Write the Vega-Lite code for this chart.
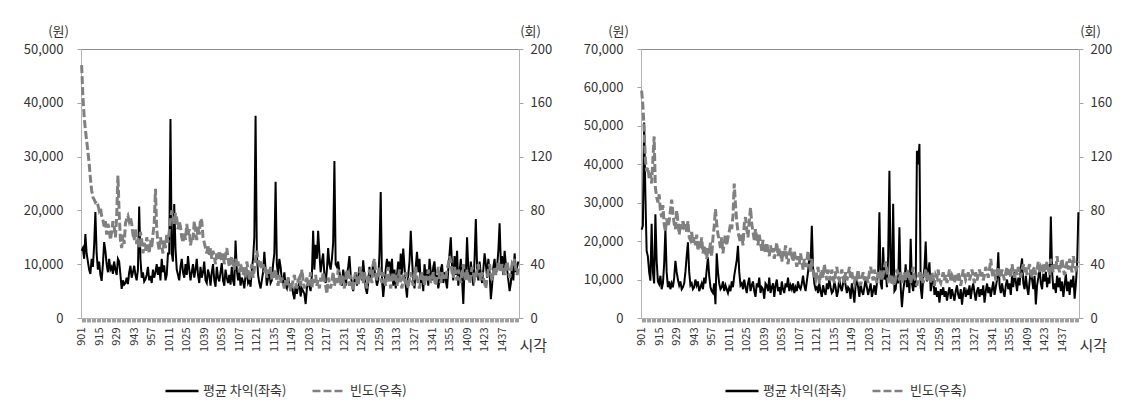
{
"$schema":"https://vega.github.io/schema/vega-lite/v6.json",
"background":"white",
"padding":{"left":22,"top":24,"right":5,"bottom":2},
"bounds":"flush",
"spacing":122,
"datasets":{
"L":[
{"m":1,"a":12500,"f":188},{"m":2,"a":13000,"f":165},{"m":3,"a":11000,"f":150},{"m":4,"a":15600,"f":140},{"m":5,"a":12000,"f":132},{"m":6,"a":10500,"f":124},{"m":7,"a":9000,"f":115},{"m":8,"a":8200,"f":104},{"m":9,"a":11000,"f":95},{"m":10,"a":9500,"f":90},
{"m":11,"a":13500,"f":88},{"m":12,"a":19700,"f":86},{"m":13,"a":12000,"f":87},{"m":14,"a":9000,"f":84},{"m":15,"a":10500,"f":80},{"m":16,"a":8000,"f":82},{"m":17,"a":6900,"f":76},{"m":18,"a":10000,"f":73},{"m":19,"a":14100,"f":68},{"m":20,"a":12500,"f":72},
{"m":21,"a":10000,"f":62},{"m":22,"a":8500,"f":70},{"m":23,"a":11000,"f":66},{"m":24,"a":9000,"f":58},{"m":25,"a":9500,"f":64},{"m":26,"a":8200,"f":72},{"m":27,"a":10500,"f":68},{"m":28,"a":9000,"f":60},{"m":29,"a":8000,"f":75},{"m":30,"a":11000,"f":106},
{"m":31,"a":10500,"f":78},{"m":32,"a":8000,"f":58},{"m":33,"a":5400,"f":52},{"m":34,"a":7000,"f":62},{"m":35,"a":6200,"f":55},{"m":36,"a":6500,"f":70},{"m":37,"a":7500,"f":74},{"m":38,"a":6300,"f":76},{"m":39,"a":8500,"f":72},{"m":40,"a":9700,"f":75},
{"m":41,"a":7500,"f":70},{"m":42,"a":8500,"f":62},{"m":43,"a":9700,"f":58},{"m":44,"a":8000,"f":66},{"m":45,"a":7000,"f":55},{"m":46,"a":9000,"f":60},{"m":47,"a":20700,"f":52},{"m":48,"a":11000,"f":64},{"m":49,"a":7500,"f":58},{"m":50,"a":8500,"f":48},
{"m":51,"a":6800,"f":56},{"m":52,"a":7200,"f":50},{"m":53,"a":8000,"f":60},{"m":54,"a":9500,"f":54},{"m":55,"a":7000,"f":48},{"m":56,"a":7800,"f":58},{"m":57,"a":6500,"f":52},{"m":58,"a":9000,"f":62},{"m":59,"a":7500,"f":70},{"m":60,"a":8500,"f":96},
{"m":61,"a":10000,"f":66},{"m":62,"a":8000,"f":56},{"m":63,"a":9500,"f":50},{"m":64,"a":7000,"f":60},{"m":65,"a":11000,"f":54},{"m":66,"a":8500,"f":48},{"m":67,"a":9800,"f":58},{"m":68,"a":7000,"f":52},{"m":69,"a":8000,"f":62},{"m":70,"a":12000,"f":56},
{"m":71,"a":12000,"f":64},{"m":72,"a":37000,"f":72},{"m":73,"a":12000,"f":80},{"m":74,"a":10500,"f":76},{"m":75,"a":21200,"f":70},{"m":76,"a":13000,"f":78},{"m":77,"a":9000,"f":74},{"m":78,"a":8000,"f":66},{"m":79,"a":7000,"f":72},{"m":80,"a":9500,"f":68},
{"m":81,"a":11000,"f":60},{"m":82,"a":8500,"f":56},{"m":83,"a":7500,"f":64},{"m":84,"a":10000,"f":58},{"m":85,"a":8000,"f":70},{"m":86,"a":11500,"f":62},{"m":87,"a":9000,"f":66},{"m":88,"a":7000,"f":54},{"m":89,"a":8500,"f":60},{"m":90,"a":10000,"f":58},
{"m":91,"a":7500,"f":72},{"m":92,"a":9000,"f":64},{"m":93,"a":11000,"f":58},{"m":94,"a":8000,"f":68},{"m":95,"a":6500,"f":62},{"m":96,"a":9500,"f":74},{"m":97,"a":7500,"f":72},{"m":98,"a":8500,"f":60},{"m":99,"a":10500,"f":56},{"m":100,"a":7000,"f":52},
{"m":101,"a":6500,"f":48},{"m":102,"a":9000,"f":54},{"m":103,"a":8000,"f":46},{"m":104,"a":6000,"f":52},{"m":105,"a":8500,"f":44},{"m":106,"a":10000,"f":50},{"m":107,"a":7000,"f":46},{"m":108,"a":5800,"f":40},{"m":109,"a":9500,"f":48},{"m":110,"a":7500,"f":44},
{"m":111,"a":6800,"f":50},{"m":112,"a":8500,"f":46},{"m":113,"a":10200,"f":42},{"m":114,"a":7000,"f":48},{"m":115,"a":6000,"f":40},{"m":116,"a":9000,"f":46},{"m":117,"a":7500,"f":52},{"m":118,"a":6500,"f":44},{"m":119,"a":8000,"f":38},{"m":120,"a":6200,"f":42},
{"m":121,"a":9500,"f":46},{"m":122,"a":7000,"f":40},{"m":123,"a":6000,"f":36},{"m":124,"a":14400,"f":44},{"m":125,"a":9000,"f":38},{"m":126,"a":7000,"f":42},{"m":127,"a":8500,"f":34},{"m":128,"a":6000,"f":40},{"m":129,"a":7500,"f":36},{"m":130,"a":6800,"f":32},
{"m":131,"a":5500,"f":38},{"m":132,"a":8000,"f":30},{"m":133,"a":9000,"f":42},{"m":134,"a":6500,"f":36},{"m":135,"a":7000,"f":28},{"m":136,"a":5800,"f":34},{"m":137,"a":9000,"f":40},{"m":138,"a":11000,"f":30},{"m":139,"a":15000,"f":36},{"m":140,"a":37600,"f":44},
{"m":141,"a":12000,"f":50},{"m":142,"a":8000,"f":44},{"m":143,"a":6500,"f":38},{"m":144,"a":5500,"f":42},{"m":145,"a":7000,"f":36},{"m":146,"a":8500,"f":40},{"m":147,"a":12300,"f":34},{"m":148,"a":9000,"f":38},{"m":149,"a":6000,"f":30},{"m":150,"a":7500,"f":36},
{"m":151,"a":8500,"f":32},{"m":152,"a":6500,"f":38},{"m":153,"a":7000,"f":28},{"m":154,"a":10000,"f":34},{"m":155,"a":12000,"f":30},{"m":156,"a":25300,"f":36},{"m":157,"a":10000,"f":28},{"m":158,"a":8000,"f":24},{"m":159,"a":11000,"f":32},{"m":160,"a":9500,"f":26},
{"m":161,"a":7000,"f":30},{"m":162,"a":6500,"f":26},{"m":163,"a":8500,"f":22},{"m":164,"a":6000,"f":28},{"m":165,"a":5500,"f":24},{"m":166,"a":7500,"f":30},{"m":167,"a":6000,"f":26},{"m":168,"a":5000,"f":20},{"m":169,"a":6500,"f":24},{"m":170,"a":4500,"f":28},
{"m":171,"a":3500,"f":32},{"m":172,"a":6000,"f":26},{"m":173,"a":4500,"f":22},{"m":174,"a":5800,"f":28},{"m":175,"a":6500,"f":30},{"m":176,"a":4000,"f":24},{"m":177,"a":5500,"f":36},{"m":178,"a":5000,"f":28},{"m":179,"a":4500,"f":22},{"m":180,"a":2600,"f":26},
{"m":181,"a":5500,"f":30},{"m":182,"a":7000,"f":24},{"m":183,"a":6000,"f":28},{"m":184,"a":5000,"f":34},{"m":185,"a":8000,"f":22},{"m":186,"a":16200,"f":30},{"m":187,"a":9000,"f":26},{"m":188,"a":13600,"f":32},{"m":189,"a":11000,"f":24},{"m":190,"a":16200,"f":28},
{"m":191,"a":12000,"f":22},{"m":192,"a":8500,"f":30},{"m":193,"a":10500,"f":26},{"m":194,"a":12000,"f":34},{"m":195,"a":8000,"f":28},{"m":196,"a":6500,"f":24},{"m":197,"a":9000,"f":18},{"m":198,"a":13000,"f":30},{"m":199,"a":10000,"f":26},{"m":200,"a":9000,"f":22},
{"m":201,"a":11000,"f":28},{"m":202,"a":14000,"f":34},{"m":203,"a":29200,"f":24},{"m":204,"a":10000,"f":30},{"m":205,"a":9500,"f":26},{"m":206,"a":10500,"f":36},{"m":207,"a":8500,"f":30},{"m":208,"a":7000,"f":24},{"m":209,"a":6000,"f":32},{"m":210,"a":9000,"f":28},
{"m":211,"a":7500,"f":22},{"m":212,"a":6000,"f":30},{"m":213,"a":8000,"f":36},{"m":214,"a":9500,"f":28},{"m":215,"a":11500,"f":24},{"m":216,"a":8000,"f":32},{"m":217,"a":6500,"f":26},{"m":218,"a":5000,"f":20},{"m":219,"a":7000,"f":30},{"m":220,"a":8500,"f":34},
{"m":221,"a":6000,"f":28},{"m":222,"a":7500,"f":24},{"m":223,"a":9500,"f":32},{"m":224,"a":8500,"f":38},{"m":225,"a":7000,"f":30},{"m":226,"a":10700,"f":26},{"m":227,"a":8000,"f":34},{"m":228,"a":5500,"f":28},{"m":229,"a":4500,"f":22},{"m":230,"a":6500,"f":30},
{"m":231,"a":9500,"f":36},{"m":232,"a":7000,"f":30},{"m":233,"a":8000,"f":26},{"m":234,"a":10500,"f":40},{"m":235,"a":9000,"f":44},{"m":236,"a":7500,"f":34},{"m":237,"a":6000,"f":28},{"m":238,"a":7000,"f":32},{"m":239,"a":12000,"f":38},{"m":240,"a":23400,"f":30},
{"m":241,"a":7000,"f":26},{"m":242,"a":3900,"f":34},{"m":243,"a":6500,"f":30},{"m":244,"a":9000,"f":24},{"m":245,"a":11000,"f":32},{"m":246,"a":9000,"f":38},{"m":247,"a":10500,"f":28},{"m":248,"a":7500,"f":22},{"m":249,"a":11000,"f":30},{"m":250,"a":6000,"f":34},
{"m":251,"a":9000,"f":28},{"m":252,"a":5500,"f":32},{"m":253,"a":8000,"f":24},{"m":254,"a":10500,"f":30},{"m":255,"a":7000,"f":36},{"m":256,"a":12000,"f":26},{"m":257,"a":8000,"f":22},{"m":258,"a":12900,"f":30},{"m":259,"a":9500,"f":28},{"m":260,"a":6000,"f":34},
{"m":261,"a":3800,"f":26},{"m":262,"a":8000,"f":22},{"m":263,"a":10500,"f":30},{"m":264,"a":16200,"f":34},{"m":265,"a":11000,"f":28},{"m":266,"a":7000,"f":24},{"m":267,"a":5500,"f":32},{"m":268,"a":9500,"f":38},{"m":269,"a":12300,"f":30},{"m":270,"a":8500,"f":26},
{"m":271,"a":11000,"f":22},{"m":272,"a":6500,"f":28},{"m":273,"a":8000,"f":34},{"m":274,"a":5000,"f":30},{"m":275,"a":10000,"f":24},{"m":276,"a":7500,"f":32},{"m":277,"a":9000,"f":28},{"m":278,"a":6000,"f":36},{"m":279,"a":11000,"f":30},{"m":280,"a":8500,"f":26},
{"m":281,"a":7000,"f":30},{"m":282,"a":9500,"f":34},{"m":283,"a":10500,"f":28},{"m":284,"a":6500,"f":24},{"m":285,"a":8000,"f":32},{"m":286,"a":5500,"f":38},{"m":287,"a":7000,"f":30},{"m":288,"a":9000,"f":26},{"m":289,"a":10000,"f":34},{"m":290,"a":6500,"f":28},
{"m":291,"a":8500,"f":32},{"m":292,"a":7000,"f":28},{"m":293,"a":5500,"f":36},{"m":294,"a":9000,"f":40},{"m":295,"a":12000,"f":46},{"m":296,"a":15000,"f":42},{"m":297,"a":9500,"f":34},{"m":298,"a":7000,"f":30},{"m":299,"a":11500,"f":38},{"m":300,"a":8000,"f":32},
{"m":301,"a":12500,"f":28},{"m":302,"a":6000,"f":36},{"m":303,"a":8500,"f":30},{"m":304,"a":11000,"f":26},{"m":305,"a":7000,"f":34},{"m":306,"a":2600,"f":40},{"m":307,"a":9500,"f":32},{"m":308,"a":8000,"f":28},{"m":309,"a":15000,"f":36},{"m":310,"a":9000,"f":30},
{"m":311,"a":7000,"f":26},{"m":312,"a":10500,"f":32},{"m":313,"a":8000,"f":38},{"m":314,"a":6000,"f":34},{"m":315,"a":11000,"f":28},{"m":316,"a":18400,"f":30},{"m":317,"a":9500,"f":36},{"m":318,"a":7000,"f":40},{"m":319,"a":10500,"f":32},{"m":320,"a":8000,"f":28},
{"m":321,"a":6500,"f":34},{"m":322,"a":9000,"f":30},{"m":323,"a":12000,"f":26},{"m":324,"a":10000,"f":22},{"m":325,"a":7500,"f":30},{"m":326,"a":11000,"f":36},{"m":327,"a":8500,"f":40},{"m":328,"a":3500,"f":32},{"m":329,"a":6000,"f":28},{"m":330,"a":9500,"f":34},
{"m":331,"a":11000,"f":38},{"m":332,"a":8000,"f":32},{"m":333,"a":9500,"f":36},{"m":334,"a":12500,"f":42},{"m":335,"a":17600,"f":38},{"m":336,"a":10000,"f":34},{"m":337,"a":11500,"f":40},{"m":338,"a":8000,"f":36},{"m":339,"a":12500,"f":32},{"m":340,"a":10000,"f":38},
{"m":341,"a":9000,"f":42},{"m":342,"a":7000,"f":36},{"m":343,"a":5000,"f":30},{"m":344,"a":6500,"f":34},{"m":345,"a":10000,"f":40},{"m":346,"a":7000,"f":38},{"m":347,"a":12000,"f":44},{"m":348,"a":8500,"f":36},{"m":349,"a":9500,"f":32},{"m":350,"a":10500,"f":38}
],
"R":[
{"m":1,"a":23000,"f":169},{"m":2,"a":24000,"f":158},{"m":3,"a":50900,"f":140},{"m":4,"a":32000,"f":118},{"m":5,"a":17500,"f":109},{"m":6,"a":16000,"f":112},{"m":7,"a":12000,"f":104},{"m":8,"a":9700,"f":108},{"m":9,"a":24500,"f":100},{"m":10,"a":12000,"f":118},
{"m":11,"a":9000,"f":135},{"m":12,"a":27000,"f":97},{"m":13,"a":15000,"f":90},{"m":14,"a":9500,"f":86},{"m":15,"a":8800,"f":92},{"m":16,"a":11000,"f":80},{"m":17,"a":7500,"f":75},{"m":18,"a":9000,"f":84},{"m":19,"a":14000,"f":70},{"m":20,"a":23100,"f":64},
{"m":21,"a":12000,"f":74},{"m":22,"a":8000,"f":68},{"m":23,"a":9500,"f":72},{"m":24,"a":7500,"f":80},{"m":25,"a":9000,"f":88},{"m":26,"a":8000,"f":78},{"m":27,"a":10500,"f":70},{"m":28,"a":14900,"f":66},{"m":29,"a":12000,"f":80},{"m":30,"a":10000,"f":72},
{"m":31,"a":8500,"f":62},{"m":32,"a":9500,"f":70},{"m":33,"a":7500,"f":66},{"m":34,"a":8000,"f":72},{"m":35,"a":9000,"f":68},{"m":36,"a":12000,"f":70},{"m":37,"a":16000,"f":64},{"m":38,"a":19700,"f":72},{"m":39,"a":12000,"f":60},{"m":40,"a":8500,"f":58},
{"m":41,"a":9000,"f":64},{"m":42,"a":7500,"f":56},{"m":43,"a":8000,"f":60},{"m":44,"a":10000,"f":54},{"m":45,"a":8500,"f":62},{"m":46,"a":9500,"f":50},{"m":47,"a":7000,"f":58},{"m":48,"a":8000,"f":52},{"m":49,"a":9000,"f":60},{"m":50,"a":7500,"f":48},
{"m":51,"a":10500,"f":54},{"m":52,"a":9000,"f":50},{"m":53,"a":12500,"f":44},{"m":54,"a":15800,"f":52},{"m":55,"a":11000,"f":48},{"m":56,"a":8000,"f":56},{"m":57,"a":7000,"f":46},{"m":58,"a":6500,"f":60},{"m":59,"a":9000,"f":68},{"m":60,"a":3600,"f":81},
{"m":61,"a":16800,"f":70},{"m":62,"a":12000,"f":62},{"m":63,"a":9000,"f":58},{"m":64,"a":7500,"f":52},{"m":65,"a":8000,"f":60},{"m":66,"a":9500,"f":48},{"m":67,"a":7000,"f":56},{"m":68,"a":8500,"f":62},{"m":69,"a":7500,"f":54},{"m":70,"a":6500,"f":60},
{"m":71,"a":8000,"f":64},{"m":72,"a":7000,"f":70},{"m":73,"a":9500,"f":66},{"m":74,"a":8000,"f":76},{"m":75,"a":11000,"f":100},{"m":76,"a":13000,"f":84},{"m":77,"a":15000,"f":72},{"m":78,"a":18800,"f":64},{"m":79,"a":12000,"f":60},{"m":80,"a":8500,"f":56},
{"m":81,"a":9000,"f":62},{"m":82,"a":7500,"f":54},{"m":83,"a":10000,"f":70},{"m":84,"a":8000,"f":75},{"m":85,"a":6500,"f":66},{"m":86,"a":9000,"f":60},{"m":87,"a":10500,"f":72},{"m":88,"a":7000,"f":82},{"m":89,"a":8500,"f":70},{"m":90,"a":9500,"f":64},
{"m":91,"a":7000,"f":58},{"m":92,"a":5500,"f":66},{"m":93,"a":9000,"f":60},{"m":94,"a":8000,"f":54},{"m":95,"a":10500,"f":62},{"m":96,"a":6500,"f":56},{"m":97,"a":8000,"f":50},{"m":98,"a":7500,"f":58},{"m":99,"a":5000,"f":52},{"m":100,"a":9000,"f":48},
{"m":101,"a":8500,"f":56},{"m":102,"a":7000,"f":50},{"m":103,"a":10500,"f":46},{"m":104,"a":6500,"f":54},{"m":105,"a":8000,"f":48},{"m":106,"a":9000,"f":52},{"m":107,"a":5500,"f":44},{"m":108,"a":8500,"f":50},{"m":109,"a":10000,"f":56},{"m":110,"a":7000,"f":46},
{"m":111,"a":8000,"f":52},{"m":112,"a":6000,"f":48},{"m":113,"a":9500,"f":42},{"m":114,"a":7500,"f":50},{"m":115,"a":6500,"f":46},{"m":116,"a":9000,"f":54},{"m":117,"a":8000,"f":44},{"m":118,"a":10500,"f":40},{"m":119,"a":7000,"f":48},{"m":120,"a":8500,"f":52},
{"m":121,"a":7500,"f":46},{"m":122,"a":9000,"f":42},{"m":123,"a":6500,"f":50},{"m":124,"a":8000,"f":44},{"m":125,"a":7000,"f":38},{"m":126,"a":9500,"f":46},{"m":127,"a":8000,"f":40},{"m":128,"a":7500,"f":48},{"m":129,"a":9000,"f":42},{"m":130,"a":11000,"f":36},
{"m":131,"a":8500,"f":44},{"m":132,"a":7000,"f":38},{"m":133,"a":9500,"f":42},{"m":134,"a":12000,"f":50},{"m":135,"a":16000,"f":40},{"m":136,"a":14000,"f":34},{"m":137,"a":24000,"f":44},{"m":138,"a":13000,"f":36},{"m":139,"a":9000,"f":30},{"m":140,"a":7500,"f":28},
{"m":141,"a":8000,"f":34},{"m":142,"a":6500,"f":38},{"m":143,"a":9000,"f":26},{"m":144,"a":7000,"f":32},{"m":145,"a":5500,"f":36},{"m":146,"a":8500,"f":30},{"m":147,"a":7000,"f":40},{"m":148,"a":6000,"f":34},{"m":149,"a":9000,"f":28},{"m":150,"a":7500,"f":36},
{"m":151,"a":10000,"f":32},{"m":152,"a":8000,"f":28},{"m":153,"a":6500,"f":36},{"m":154,"a":7000,"f":30},{"m":155,"a":9500,"f":26},{"m":156,"a":8000,"f":34},{"m":157,"a":5500,"f":38},{"m":158,"a":7000,"f":30},{"m":159,"a":10500,"f":28},{"m":160,"a":8000,"f":32},
{"m":161,"a":7000,"f":36},{"m":162,"a":9000,"f":30},{"m":163,"a":11000,"f":26},{"m":164,"a":8500,"f":34},{"m":165,"a":6500,"f":28},{"m":166,"a":8000,"f":32},{"m":167,"a":7500,"f":38},{"m":168,"a":5000,"f":30},{"m":169,"a":9000,"f":34},{"m":170,"a":7000,"f":28},
{"m":171,"a":4000,"f":26},{"m":172,"a":8500,"f":32},{"m":173,"a":10000,"f":30},{"m":174,"a":8000,"f":36},{"m":175,"a":5500,"f":28},{"m":176,"a":9000,"f":24},{"m":177,"a":7000,"f":30},{"m":178,"a":6000,"f":34},{"m":179,"a":8000,"f":28},{"m":180,"a":10000,"f":32},
{"m":181,"a":8000,"f":30},{"m":182,"a":6000,"f":26},{"m":183,"a":7500,"f":34},{"m":184,"a":9000,"f":38},{"m":185,"a":5500,"f":32},{"m":186,"a":7000,"f":28},{"m":187,"a":8500,"f":36},{"m":188,"a":6000,"f":30},{"m":189,"a":9000,"f":26},{"m":190,"a":12000,"f":34},
{"m":191,"a":27500,"f":30},{"m":192,"a":9000,"f":36},{"m":193,"a":7500,"f":28},{"m":194,"a":18400,"f":32},{"m":195,"a":10000,"f":38},{"m":196,"a":13000,"f":42},{"m":197,"a":8000,"f":34},{"m":198,"a":16000,"f":28},{"m":199,"a":38300,"f":30},{"m":200,"a":12000,"f":26},
{"m":201,"a":9000,"f":32},{"m":202,"a":29700,"f":28},{"m":203,"a":7000,"f":24},{"m":204,"a":7500,"f":30},{"m":205,"a":11000,"f":36},{"m":206,"a":9000,"f":32},{"m":207,"a":23600,"f":28},{"m":208,"a":8000,"f":34},{"m":209,"a":2800,"f":26},{"m":210,"a":7000,"f":30},
{"m":211,"a":9500,"f":34},{"m":212,"a":14000,"f":28},{"m":213,"a":8000,"f":32},{"m":214,"a":12000,"f":36},{"m":215,"a":6500,"f":30},{"m":216,"a":20600,"f":26},{"m":217,"a":9000,"f":32},{"m":218,"a":7000,"f":38},{"m":219,"a":11000,"f":30},{"m":220,"a":8000,"f":28},
{"m":221,"a":43500,"f":24},{"m":222,"a":40000,"f":30},{"m":223,"a":45300,"f":34},{"m":224,"a":8000,"f":28},{"m":225,"a":5000,"f":32},{"m":226,"a":10500,"f":26},{"m":227,"a":13000,"f":30},{"m":228,"a":19900,"f":36},{"m":229,"a":9500,"f":28},{"m":230,"a":12000,"f":32},
{"m":231,"a":14500,"f":30},{"m":232,"a":7000,"f":26},{"m":233,"a":9000,"f":34},{"m":234,"a":11000,"f":28},{"m":235,"a":6000,"f":24},{"m":236,"a":8000,"f":32},{"m":237,"a":5500,"f":30},{"m":238,"a":7000,"f":36},{"m":239,"a":4000,"f":28},{"m":240,"a":7500,"f":26},
{"m":241,"a":6000,"f":30},{"m":242,"a":8000,"f":34},{"m":243,"a":5500,"f":28},{"m":244,"a":7000,"f":32},{"m":245,"a":4500,"f":26},{"m":246,"a":6500,"f":30},{"m":247,"a":8000,"f":36},{"m":248,"a":5000,"f":28},{"m":249,"a":7500,"f":32},{"m":250,"a":6000,"f":30},
{"m":251,"a":4500,"f":26},{"m":252,"a":7000,"f":32},{"m":253,"a":8500,"f":28},{"m":254,"a":6000,"f":34},{"m":255,"a":5000,"f":30},{"m":256,"a":7500,"f":24},{"m":257,"a":3500,"f":30},{"m":258,"a":6500,"f":36},{"m":259,"a":8000,"f":32},{"m":260,"a":5500,"f":28},
{"m":261,"a":7000,"f":30},{"m":262,"a":6000,"f":34},{"m":263,"a":8500,"f":28},{"m":264,"a":5000,"f":32},{"m":265,"a":7500,"f":36},{"m":266,"a":9000,"f":30},{"m":267,"a":6500,"f":26},{"m":268,"a":4500,"f":34},{"m":269,"a":7000,"f":28},{"m":270,"a":8000,"f":32},
{"m":271,"a":5500,"f":36},{"m":272,"a":7500,"f":30},{"m":273,"a":6000,"f":34},{"m":274,"a":8500,"f":28},{"m":275,"a":4000,"f":32},{"m":276,"a":7000,"f":38},{"m":277,"a":9000,"f":34},{"m":278,"a":6500,"f":30},{"m":279,"a":8000,"f":36},{"m":280,"a":5500,"f":44},
{"m":281,"a":7500,"f":34},{"m":282,"a":9500,"f":30},{"m":283,"a":6000,"f":36},{"m":284,"a":8000,"f":28},{"m":285,"a":10000,"f":32},{"m":286,"a":17100,"f":38},{"m":287,"a":8500,"f":34},{"m":288,"a":6500,"f":30},{"m":289,"a":9000,"f":36},{"m":290,"a":7000,"f":32},
{"m":291,"a":5500,"f":28},{"m":292,"a":8500,"f":34},{"m":293,"a":10000,"f":38},{"m":294,"a":7500,"f":32},{"m":295,"a":9000,"f":36},{"m":296,"a":6000,"f":30},{"m":297,"a":11000,"f":40},{"m":298,"a":8000,"f":34},{"m":299,"a":12000,"f":30},{"m":300,"a":9500,"f":36},
{"m":301,"a":7000,"f":32},{"m":302,"a":10500,"f":38},{"m":303,"a":8500,"f":34},{"m":304,"a":13000,"f":30},{"m":305,"a":15500,"f":36},{"m":306,"a":9000,"f":40},{"m":307,"a":7500,"f":34},{"m":308,"a":11000,"f":38},{"m":309,"a":8000,"f":32},{"m":310,"a":6000,"f":36},
{"m":311,"a":9500,"f":40},{"m":312,"a":12500,"f":34},{"m":313,"a":10000,"f":30},{"m":314,"a":7500,"f":36},{"m":315,"a":11000,"f":38},{"m":316,"a":3500,"f":32},{"m":317,"a":8500,"f":36},{"m":318,"a":10500,"f":42},{"m":319,"a":13000,"f":34},{"m":320,"a":9000,"f":38},
{"m":321,"a":7500,"f":36},{"m":322,"a":11500,"f":40},{"m":323,"a":9500,"f":34},{"m":324,"a":12000,"f":38},{"m":325,"a":8000,"f":42},{"m":326,"a":10500,"f":36},{"m":327,"a":9000,"f":32},{"m":328,"a":26400,"f":44},{"m":329,"a":12000,"f":38},{"m":330,"a":7500,"f":34},
{"m":331,"a":9000,"f":40},{"m":332,"a":6500,"f":36},{"m":333,"a":11000,"f":46},{"m":334,"a":8000,"f":38},{"m":335,"a":10500,"f":34},{"m":336,"a":7000,"f":40},{"m":337,"a":9500,"f":44},{"m":338,"a":5500,"f":36},{"m":339,"a":8500,"f":32},{"m":340,"a":11500,"f":38},
{"m":341,"a":7000,"f":42},{"m":342,"a":9500,"f":36},{"m":343,"a":6000,"f":44},{"m":344,"a":10000,"f":38},{"m":345,"a":8000,"f":34},{"m":346,"a":11000,"f":46},{"m":347,"a":5000,"f":40},{"m":348,"a":9000,"f":36},{"m":349,"a":14000,"f":38},{"m":350,"a":27500,"f":42}
]
},
"hconcat":[
{
"width":438,"height":269,
"data":{"name":"L"},
"encoding":{"x":{"field":"m","type":"quantitative","scale":{"domain":[0.5,350.5],"nice":false,"zero":false},
"axis":{"title":"시각","titleX":438,"titleY":27,"titleAlign":"left","titleBaseline":"middle","titleFontSize":15,"tickCount":350,"labelExpr":"(datum.value-1)%14==0 ? toString(floor((540+datum.value)/60)*100+(540+datum.value)%60) : ''","labelAngle":-90,"labelFontSize":11,"labelPadding":5,"labelOverlap":false,"tickSize":4}}},
"layer":[
{"mark":{"type":"line","strokeWidth":2},
"encoding":{"y":{"field":"a","type":"quantitative","scale":{"domain":[0,50000],"nice":false},
"axis":{"orient":"left","values":[0,10000,20000,30000,40000,50000],"format":",.0f","title":"(원)","titleAngle":0,"titleX":-23,"titleY":-18,"titleAlign":"center","titleBaseline":"middle","labelPadding":14,"tickSize":4}},
"color":{"datum":"평균 차익(좌축)","type":"nominal","title":null,"scale":{"domain":["평균 차익(좌축)","빈도(우축)"],"range":["#000000","#808080"]}},
"strokeDash":{"datum":"평균 차익(좌축)","type":"nominal","title":null,"scale":{"domain":["평균 차익(좌축)","빈도(우축)"],"range":[[1,0],[8,3]]}}}},
{"mark":{"type":"line","strokeWidth":3},
"encoding":{"y":{"field":"f","type":"quantitative","scale":{"domain":[0,200],"nice":false},
"axis":{"orient":"right","values":[0,40,80,120,160,200],"format":".0f","title":"(회)","titleAngle":0,"titleX":11,"titleY":-18,"titleAlign":"center","titleBaseline":"middle","labelPadding":7,"tickSize":4}},
"color":{"datum":"빈도(우축)","type":"nominal","title":null},
"strokeDash":{"datum":"빈도(우축)","type":"nominal","title":null}}}
],
"resolve":{"scale":{"y":"independent"}}
},
{
"width":438,"height":269,
"data":{"name":"R"},
"encoding":{"x":{"field":"m","type":"quantitative","scale":{"domain":[0.5,350.5],"nice":false,"zero":false},
"axis":{"title":"시각","titleX":438,"titleY":27,"titleAlign":"left","titleBaseline":"middle","titleFontSize":15,"tickCount":350,"labelExpr":"(datum.value-1)%14==0 ? toString(floor((540+datum.value)/60)*100+(540+datum.value)%60) : ''","labelAngle":-90,"labelFontSize":11,"labelPadding":5,"labelOverlap":false,"tickSize":4}}},
"layer":[
{"mark":{"type":"line","strokeWidth":2},
"encoding":{"y":{"field":"a","type":"quantitative","scale":{"domain":[0,70000],"nice":false},
"axis":{"orient":"left","values":[0,10000,20000,30000,40000,50000,60000,70000],"format":",.0f","title":"(원)","titleAngle":0,"titleX":-23,"titleY":-18,"titleAlign":"center","titleBaseline":"middle","labelPadding":14,"tickSize":4}},
"color":{"datum":"평균 차익(좌축)","type":"nominal","title":null,"scale":{"domain":["평균 차익(좌축)","빈도(우축)"],"range":["#000000","#808080"]}},
"strokeDash":{"datum":"평균 차익(좌축)","type":"nominal","title":null,"scale":{"domain":["평균 차익(좌축)","빈도(우축)"],"range":[[1,0],[8,3]]}}}},
{"mark":{"type":"line","strokeWidth":3},
"encoding":{"y":{"field":"f","type":"quantitative","scale":{"domain":[0,200],"nice":false},
"axis":{"orient":"right","values":[0,40,80,120,160,200],"format":".0f","title":"(회)","titleAngle":0,"titleX":11,"titleY":-18,"titleAlign":"center","titleBaseline":"middle","labelPadding":7,"tickSize":4}},
"color":{"datum":"빈도(우축)","type":"nominal","title":null},
"strokeDash":{"datum":"빈도(우축)","type":"nominal","title":null}}}
],
"resolve":{"scale":{"y":"independent"}}
}
],
"resolve":{"scale":{"color":"independent","strokeDash":"independent"}},
"config":{
"font":"Noto Sans CJK KR",
"view":{"stroke":"#8c8c8c","strokeWidth":1},
"axis":{"grid":false,"domainColor":"#b4b4b4","tickColor":"#a0a0a0","labelColor":"#333333","titleColor":"#333333","labelFontSize":13,"titleFontSize":13,"titleFontWeight":"normal","labelFlush":false,"labelFont":"Noto Sans CJK KR","titleFont":"Noto Sans CJK KR"},
"legend":{"orient":"none","legendX":83,"legendY":324,"direction":"horizontal","symbolType":"stroke","symbolSize":1090,"symbolStrokeWidth":2.5,"labelFontSize":13,"labelOffset":3,"columnPadding":20,"padding":0,"labelColor":"#333333","labelFont":"Noto Sans CJK KR","labelLimit":0}
}
}
